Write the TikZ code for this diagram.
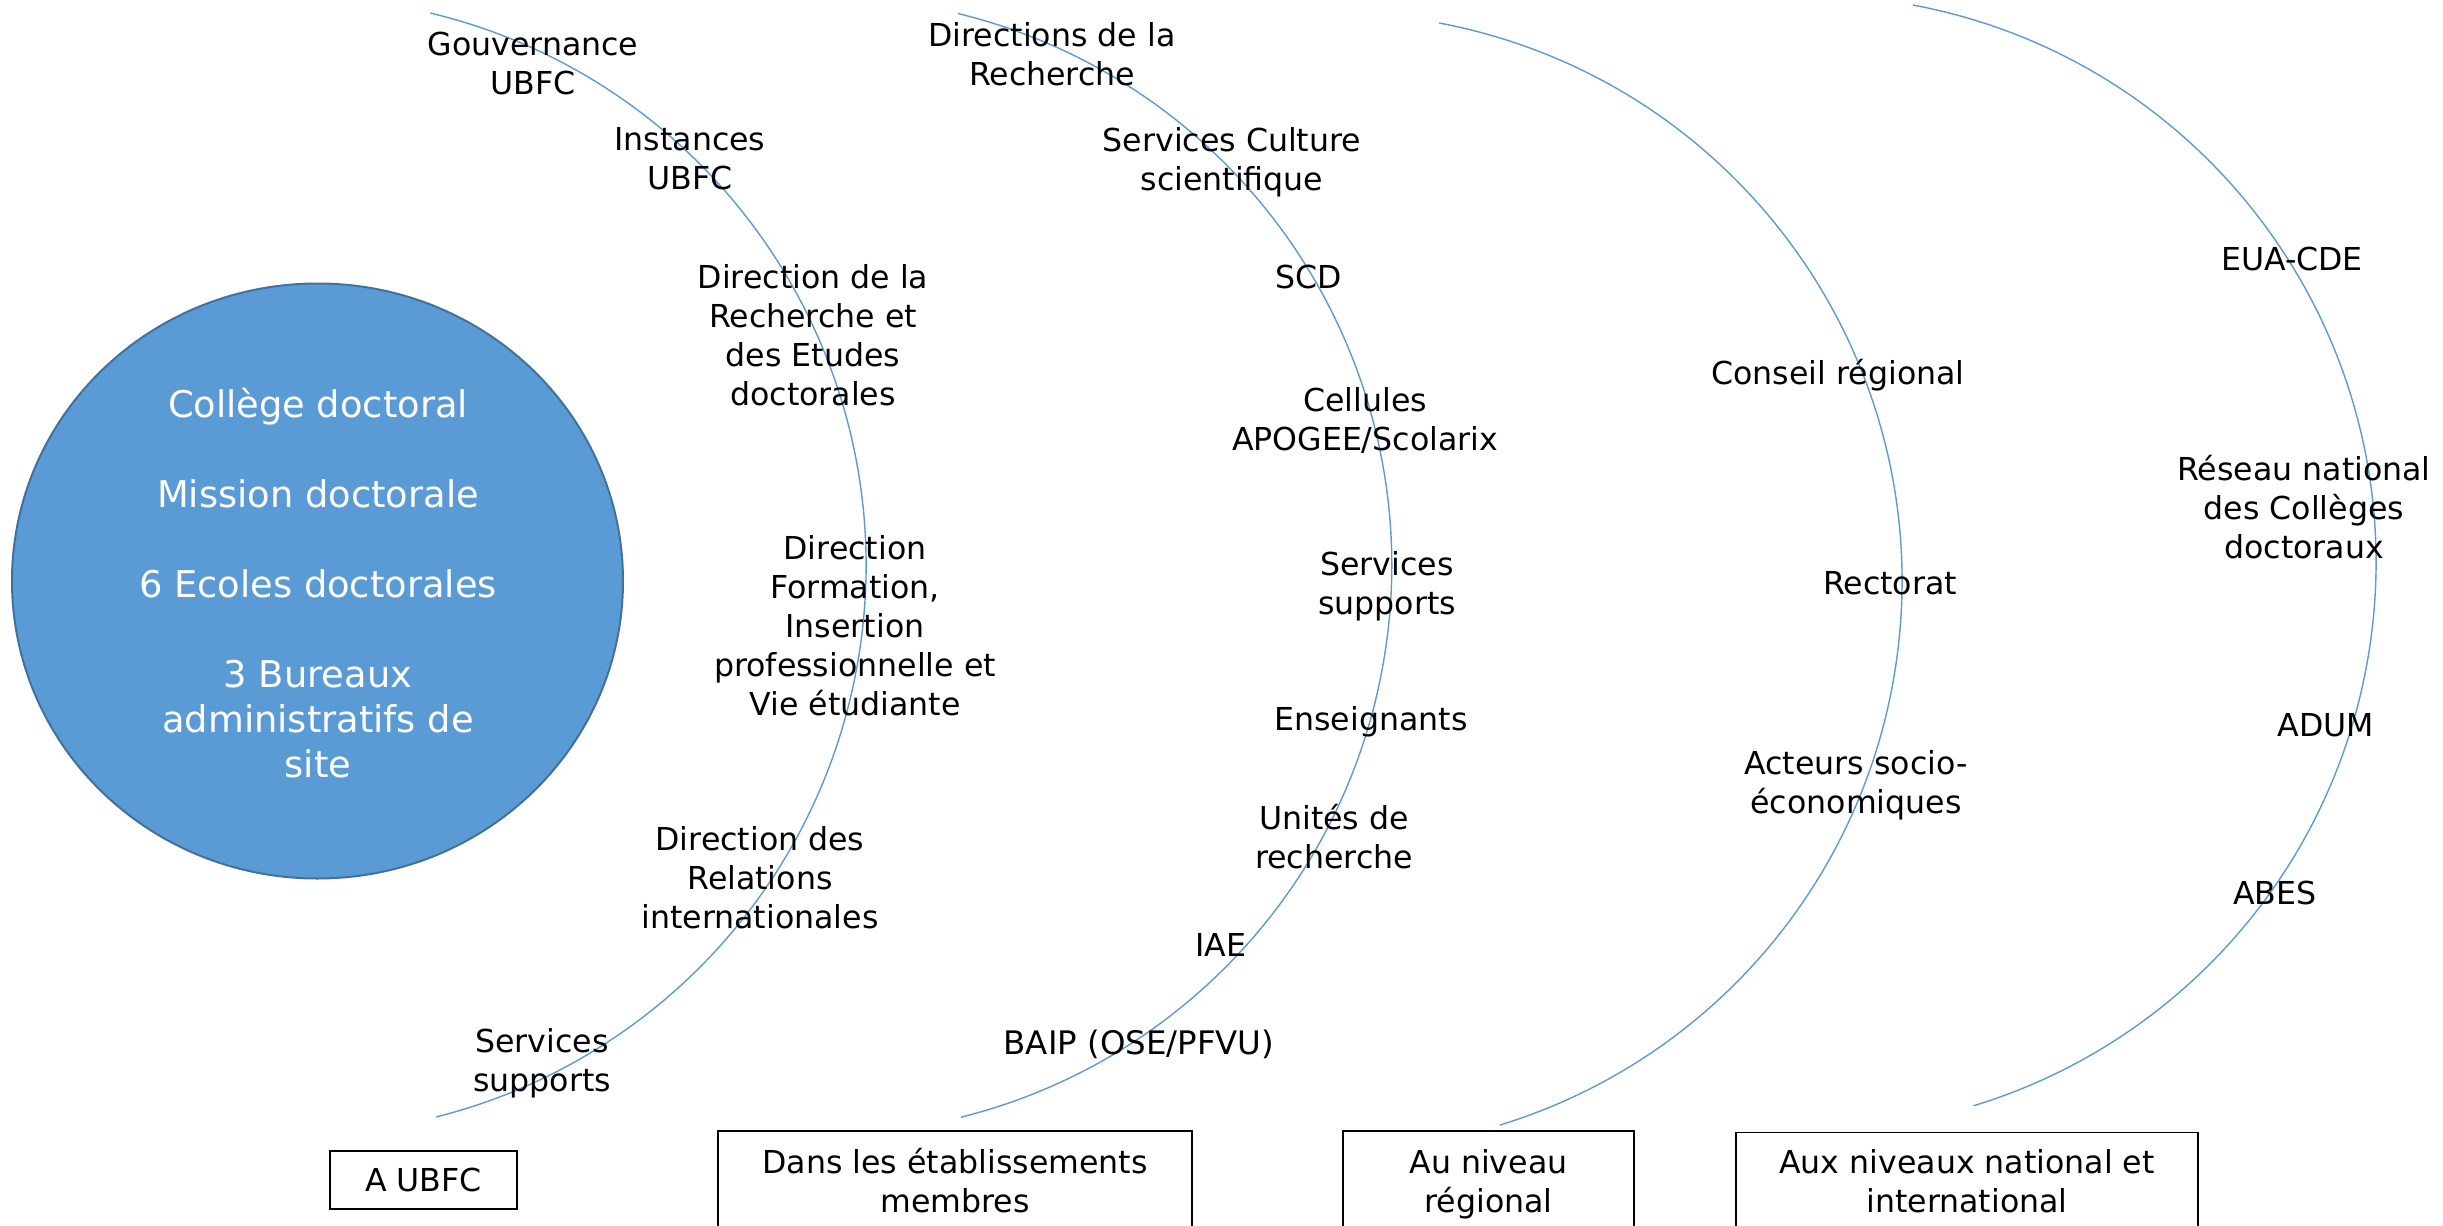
\documentclass[tikz,border=0pt]{standalone}
\usepackage{fontspec}
\setmainfont{DejaVu Sans}
\definecolor{arcblue}{HTML}{5B9BD5}
\definecolor{discfill}{HTML}{5B9BD5}
\definecolor{discedge}{HTML}{41719C}
\begin{document}
\begin{tikzpicture}[x=0.5pt,y=-0.5pt,
  lbl/.style={align=center,inner sep=0pt,font=\fontsize{15.8pt}{19.5pt}\selectfont},
  arcline/.style={draw=arcblue,line width=0.7pt},
  boxnode/.style={draw=black,line width=0.9pt,align=center,inner sep=0pt,font=\fontsize{15.8pt}{19.5pt}\selectfont},
  disctext/.style={align=center,inner sep=0pt,text=white,font=\fontsize{18.4pt}{22.5pt}\selectfont}]
\clip (0,0) rectangle (2443,1226);
\fill[white] (0,0) rectangle (2443,1226);

% central disc
\draw[fill=discfill,draw=discedge,line width=1pt] (317.5,581) ellipse [x radius=152.75pt, y radius=148.75pt];
\node[disctext] (disc) at (318,583) {Collège doctoral\\[22.5pt]Mission doctorale\\[22.5pt]6 Ecoles doctorales\\[22.5pt]3 Bureaux\\administratifs de\\site};

% arcs
\coordinate (c1) at (297.6,565.7);
\coordinate (c2) at (823.3,565.7);
\coordinate (c3) at (1333.6,581.5);
\coordinate (c4) at (1808.5,562.8);
\draw[arcline] (c1) ++(76.5:284.2pt) arc[start angle=76.5,end angle=-75.9,radius=284.2pt];
\draw[arcline] (c2) ++(76.3:284.2pt) arc[start angle=76.3,end angle=-76.0,radius=284.2pt];
\draw[arcline] (c3) ++(79.3:284.2pt) arc[start angle=79.3,end angle=-73.0,radius=284.2pt];
\draw[arcline] (c4) ++(79.4:283.75pt) arc[start angle=79.4,end angle=-73.1,radius=283.75pt];

% column 1 : UBFC
\node[lbl] (gouv) at (533,63) {Gouvernance\\UBFC};
\node[lbl] (inst) at (690,159) {Instances\\UBFC};
\node[lbl] (drec) at (813,335) {Direction de la\\Recherche et\\des Etudes\\doctorales};
\node[lbl] (dfor) at (855,626) {Direction\\Formation,\\Insertion\\professionnelle et\\Vie étudiante};
\node[lbl] (dri) at (760,878) {Direction des\\Relations\\internationales};
\node[lbl] (serv1) at (542,1063) {Services\\supports};

% column 2 : etablissements
\node[lbl] (dirrech) at (1052,54) {Directions de la\\Recherche};
\node[lbl] (culture) at (1232,162) {Services Culture\\scientifique};
\node[lbl] (scd) at (1309,277) {SCD};
\node[lbl] (cellules) at (1365,420) {Cellules\\APOGEE/Scolarix};
\node[lbl] (serv2) at (1387,586) {Services\\supports};
\node[lbl] (ens) at (1371,722) {Enseignants};
\node[lbl] (unites) at (1334,837) {Unités de\\recherche};
\node[lbl] (iae) at (1221,945) {IAE};
\node[lbl,font=\fontsize{16.2pt}{19.5pt}\selectfont] (baip) at (1139,1044) {BAIP (OSE/PFVU)};

% column 3 : regional
\node[lbl] (conseil) at (1838,375) {Conseil régional};
\node[lbl] (rectorat) at (1890,583) {Rectorat};
\node[lbl] (acteurs) at (1856,785) {Acteurs socio-\\économiques};

% column 4 : national / international
\node[lbl] (eua) at (2292,259) {EUA-CDE};
\node[lbl] (reseau) at (2304,507) {Réseau national\\des Collèges\\doctoraux};
\node[lbl] (adum) at (2326,725) {ADUM};
\node[lbl] (abes) at (2275,893) {ABES};

% bottom boxes
\node[boxnode,minimum width=93.5pt,minimum height=29pt] (bubfc) at (423.5,1180) {A UBFC};
\node[boxnode,minimum width=237pt,minimum height=50pt] (betab) at (955,1181) {Dans les établissements\\membres};
\node[boxnode,minimum width=145.5pt,minimum height=53pt] (bregion) at (1488.5,1184) {Au niveau\\régional};
\node[boxnode,minimum width=231pt,minimum height=49pt] (bnat) at (1967,1181.5) {Aux niveaux national et\\international};
\end{tikzpicture}
\end{document}
